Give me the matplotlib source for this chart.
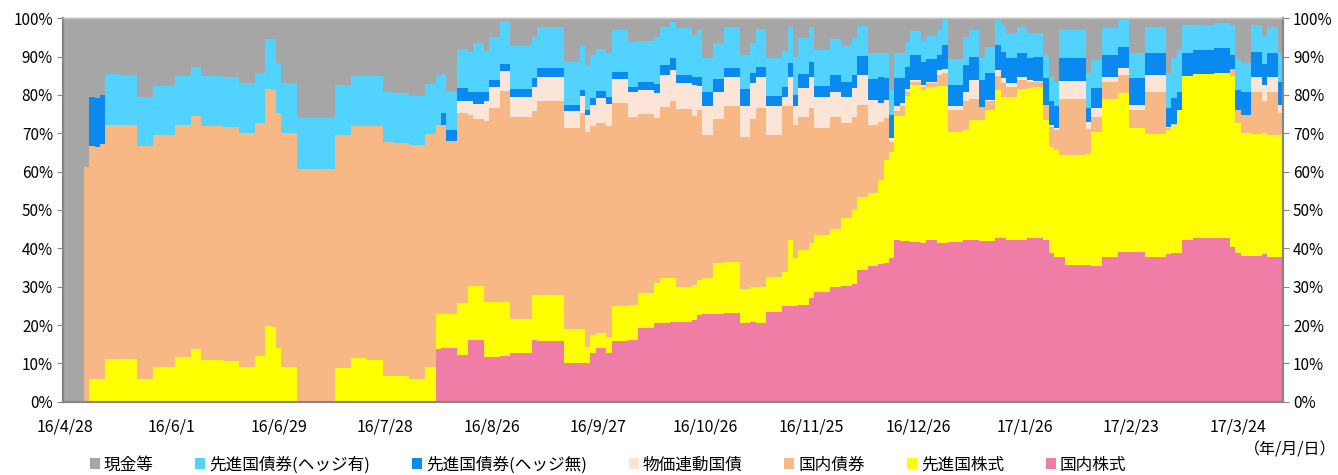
import numpy as np
import matplotlib
matplotlib.use('Agg')
import matplotlib.pyplot as plt
from matplotlib.patches import Patch

plt.rcParams['font.family'] = ['Noto Sans CJK JP', 'DejaVu Sans']

# ---- data (percent of portfolio; each entry holds for run_days business days) ----
tick_labels = ['16/4/28', '16/6/1', '16/6/29', '16/7/28', '16/8/26', '16/9/27',
               '16/10/26', '16/11/25', '16/12/26', '17/1/26', '17/2/23', '17/3/24']
tick_every = 20

run_days = [4, 1, 1, 1, 1, 3, 3, 3, 4, 3, 2, 4, 3, 3, 2, 1, 1, 1, 3, 7,
            3, 3, 3, 2, 3, 3, 2, 1, 1, 2, 2, 1, 2, 1, 2, 2, 4, 1, 5, 3,
            1, 1, 1, 2, 1, 3, 2, 3, 1, 2, 1, 3, 1, 1, 2, 2, 3, 2, 1, 2,
            3, 1, 1, 1, 2, 1, 3, 2, 2, 1, 2, 2, 1, 1, 1, 1, 1, 1, 2, 1,
            2, 1, 1, 3, 1, 2, 1, 2, 1, 1, 2, 2, 1, 2, 1, 1, 1, 1, 4, 1,
            2, 3, 2, 3, 4, 1, 1, 1, 2, 4, 3, 1, 1, 2, 2, 1, 2, 1]

dom_equity = [0, 0, 0, 0, 0, 0, 0, 0, 0, 0, 0, 0, 0, 0, 0, 0, 0, 0, 0, 0,
              0, 0, 0, 0, 0, 0, 0, 13.7, 13.9, 13.9, 12.2, 16.1, 16.1, 11.7, 11.7, 11.9, 12.6, 16.1, 15.8, 10.0,
              10.0, 10.2, 12.6, 13.9, 12.8, 15.8, 16.1, 19.1, 20.4, 20.6, 20.9, 20.9, 21.3, 22.6, 22.9, 23.0, 23.2, 20.4, 20.9, 20.4,
              23.5, 25.0, 25.0, 25.0, 25.2, 27.0, 28.7, 29.8, 30.2, 30.7, 34.3, 35.4, 35.9, 36.1, 37.4, 42.2, 42.0, 42.0, 41.7, 41.3,
              42.2, 41.3, 41.3, 41.7, 42.2, 42.2, 42.0, 42.0, 42.6, 42.6, 42.3, 42.2, 42.6, 42.8, 42.3, 38.7, 37.8, 37.7, 35.7, 35.7,
              35.4, 37.8, 39.1, 39.1, 37.8, 38.5, 38.7, 38.7, 42.2, 42.6, 42.6, 40.3, 38.7, 38.0, 38.0, 38.5, 37.8, 37.8]

dev_equity = [0, 0, 5.9, 5.8, 5.8, 11.1, 11.2, 5.9, 9.0, 11.7, 13.7, 11.0, 10.6, 9.0, 11.9, 19.7, 19.4, 13.9, 9.0, 0,
              8.9, 11.3, 10.9, 6.8, 6.8, 5.9, 9.0, 9.3, 9.0, 9.0, 13.5, 14.1, 14.1, 14.2, 14.2, 14.2, 9.1, 11.7, 12.0, 8.9,
              8.9, 4.0, 4.8, 3.9, 4.2, 9.2, 9.1, 9.2, 10.5, 11.7, 11.4, 9.1, 9.1, 9.1, 9.3, 13.1, 13.3, 8.9, 8.9, 9.6,
              9.1, 8.9, 17.2, 12.4, 14.4, 14.3, 14.8, 15.2, 17.6, 19.3, 19.0, 19.1, 21.9, 26.9, 27.8, 32.3, 32.5, 37.7, 40.9, 40.0,
              40.0, 41.0, 41.0, 28.7, 28.7, 31.3, 31.5, 34.1, 38.7, 36.8, 37.3, 39.3, 39.1, 39.4, 31.2, 27.8, 27.9, 26.6, 28.6, 28.9,
              35.0, 41.1, 41.3, 32.2, 32.0, 32.4, 33.5, 37.4, 42.8, 42.9, 43.2, 44.7, 33.9, 32.2, 31.8, 31.7, 31.8, 31.8]

dom_bond = [0, 61.3, 60.8, 60.7, 61.4, 61.2, 61.0, 60.8, 60.6, 60.6, 60.8, 61.0, 61.1, 61.0, 60.9, 61.9, 61.9, 61.3, 61.0, 60.8,
            60.7, 60.7, 61.0, 61.0, 60.6, 61.0, 60.7, 49.3, 49.4, 45.1, 49.5, 44.6, 43.5, 47.3, 50.8, 55.0, 52.6, 48.1, 50.7, 52.4,
            56.5, 56.2, 54.5, 55.0, 54.9, 52.8, 49.1, 46.7, 43.0, 44.5, 46.2, 46.3, 44.1, 44.4, 37.4, 37.6, 40.5, 39.8, 43.9, 46.5,
            37.0, 43.1, 34.9, 34.8, 34.6, 35.2, 27.8, 29.3, 24.8, 24.3, 24.1, 17.7, 15.2, 10.9, 2.6, 1.2, 2.5, 1.2, 0.9, 0.7,
            0.8, 2.9, 3.4, 5.7, 7.4, 5.4, 3.4, 2.2, 3.7, 3.8, 2.6, 2.4, 1.8, 1.3, 3.9, 5.2, 5.2, 14.6, 14.6, 6.4,
            3.9, 4.6, 4.8, 4.8, 11.1, 0.4, 0.2, 0, 0, 0, 0, 1.7, 3.5, 4.6, 11.1, 8.3, 11.3, 5.6]

linker = [0, 0, 0, 0, 0, 0, 0, 0, 0, 0, 0, 0, 0, 0, 0, 0, 0, 0, 0, 0,
          0, 0, 0, 0, 0, 0, 0, 0, 0, 0, 3.3, 3.5, 4.0, 5.1, 5.3, 5.2, 5.3, 6.1, 6.3, 4.4,
          4.3, 4.4, 5.5, 6.3, 5.8, 6.3, 6.6, 6.3, 6.7, 8.4, 8.0, 6.9, 8.1, 6.2, 7.4, 7.2, 7.8, 8.0, 9.3, 8.3,
          7.4, 2.6, 7.7, 4.8, 7.5, 8.3, 8.3, 6.6, 6.8, 7.6, 7.8, 6.5, 4.8, 4.8, 0.9, 1.3, 0.8, 0.6, 0.4, 0.6,
          0.5, 1.3, 1.0, 0.9, 2.6, 5.0, 0, 0.4, 1.5, 1.1, 1.0, 0.9, 0.4, 0.2, 0, 0.5, 0.4, 4.8, 4.8, 2.0,
          2.2, 1.3, 1.8, 1.3, 4.3, 0.4, 0, 0, 0, 0, 0, 0, 0, 0, 3.9, 4.1, 3.9, 2.2]

dev_bond_unhedged = [0, 0, 12.9, 12.8, 12.8, 0, 0, 0, 0, 0, 0, 0, 0, 0, 0, 0, 0, 0, 0, 0,
                     0, 0, 0, 0, 0, 0, 0, 0, 3.1, 2.9, 3.2, 2.6, 3.0, 2.6, 1.9, 1.8, 1.9, 2.3, 2.2, 1.7,
                     1.6, 1.3, 1.7, 1.9, 1.7, 1.8, 1.3, 2.2, 2.3, 2.5, 3.1, 2.0, 2.2, 2.5, 3.7, 3.2, 2.2, 4.4, 2.7, 2.4,
                     2.7, 2.4, 3.5, 3.0, 3.9, 3.9, 2.7, 4.3, 4.1, 3.3, 5.0, 5.5, 7.0, 5.6, 6.1, 7.3, 6.5, 5.8, 6.5, 6.0,
                     5.8, 3.9, 6.3, 5.6, 6.9, 6.1, 7.0, 7.0, 6.5, 7.0, 6.4, 6.2, 5.7, 6.3, 6.9, 6.1, 5.7, 5.9, 5.9, 3.5,
                     5.2, 5.6, 5.6, 6.9, 5.7, 4.8, 6.7, 4.8, 6.0, 6.2, 6.4, 3.7, 5.2, 6.1, 6.5, 5.4, 6.1, 6.1]

dev_bond_hedged = [0, 0, 0, 0, 0, 13.1, 13.0, 12.9, 12.8, 12.7, 12.9, 12.9, 12.9, 13.0, 12.9, 12.9, 13.2, 13.2, 13.0, 13.1,
                   13.0, 13.0, 13.0, 13.1, 13.0, 12.9, 13.2, 12.7, 10.1, 10.1, 10.2, 10.4, 12.8, 10.7, 11.1, 11.2, 11.4, 10.9, 10.8, 11.3,
                   11.5, 11.7, 11.3, 10.9, 11.5, 11.1, 11.7, 10.6, 12.3, 10.0, 9.5, 12.2, 10.9, 12.2, 8.9, 9.4, 10.8, 8.9, 7.8, 10.0,
                   9.9, 9.6, 9.4, 10.0, 9.2, 9.0, 9.4, 9.5, 9.3, 9.6, 7.8, 6.8, 6.2, 6.6, 6.5, 6.7, 6.6, 6.5, 6.4, 5.5,
                   6.1, 6.6, 6.6, 6.7, 7.4, 7.0, 5.7, 6.9, 6.6, 7.0, 6.5, 6.8, 6.5, 6.1, 6.1, 6.5, 6.5, 7.4, 7.4, 9.2,
                   7.4, 7.0, 7.1, 6.6, 6.9, 9.2, 10.5, 10.8, 7.3, 6.6, 6.5, 7.8, 7.8, 7.4, 7.0, 7.4, 6.9, 7.4]

cash = [100, 38.7, 20.4, 20.7, 20.0, 14.6, 14.8, 20.4, 17.6, 15.0, 12.6, 15.1, 15.4, 17.0, 14.3, 5.5, 5.5, 11.6, 17.0, 26.1,
        17.4, 15.0, 15.1, 19.1, 19.6, 20.2, 17.1, 15.0, 14.5, 19.0, 8.1, 8.7, 6.5, 8.4, 5.0, 0.7, 7.1, 4.8, 2.2, 11.3,
        7.2, 12.2, 9.6, 8.1, 9.1, 3.0, 6.1, 5.9, 4.8, 2.3, 0.9, 2.6, 4.3, 3.0, 10.4, 6.5, 2.2, 9.6, 6.5, 2.8,
        10.4, 8.4, 2.3, 10.0, 5.2, 2.3, 8.3, 5.3, 7.2, 5.2, 2.0, 9.0, 9.0, 9.1, 18.7, 9.0, 9.1, 6.2, 3.2, 5.9,
        4.6, 3.0, 0.4, 10.7, 4.8, 3.0, 10.4, 7.4, 0.4, 1.7, 3.9, 2.2, 3.9, 3.9, 9.6, 15.2, 16.5, 3.0, 3.0, 14.3,
        10.9, 2.6, 0.3, 9.1, 2.2, 14.3, 10.4, 8.3, 1.7, 1.7, 1.3, 1.8, 10.9, 11.7, 1.7, 4.6, 2.2, 9.1]

series = [
    (dom_equity, '国内株式', '#F07DA6'),
    (dev_equity, '先進国株式', '#FFFF00'),
    (dom_bond, '国内債券', '#F7B886'),
    (linker, '物価連動国債', '#FCE5D7'),
    (dev_bond_unhedged, '先進国債券(ヘッジ無)', '#0A8AF0'),
    (dev_bond_hedged, '先進国債券(ヘッジ有)', '#52D2FF'),
    (cash, '現金等', '#A6A6A6'),
]

W, H = 1338, 475
fig = plt.figure(figsize=(W / 100, H / 100), dpi=100)
ax = fig.add_axes([62.7 / W, 1 - 401.7 / H, (1283.3 - 62.7) / W, (401.7 - 18.3) / H])

n = int(np.sum(run_days))
x = np.arange(n + 1)
bottom = np.zeros(n)
for vals, label, color in series:
    daily = np.repeat(np.asarray(vals, dtype=float), run_days)
    top = bottom + daily
    ax.fill_between(x, np.append(bottom, bottom[-1]), np.append(top, top[-1]),
                    step='post', color=color, lw=0, antialiased=False)
    bottom = top

ax.set_xlim(0, n)
ax.set_ylim(0, 100)
ticks = np.arange(len(tick_labels)) * tick_every + 0.5
ax.set_xticks(ticks)
ax.set_xticklabels(tick_labels, fontsize=11.5)
ax.tick_params(axis='x', length=0, pad=12)

yt = np.arange(0, 101, 10)
ax.set_yticks(yt)
ax.set_yticklabels([f'{v}%' for v in yt], fontsize=11)
ax.tick_params(axis='y', length=4, color='#868686', pad=3)

ax2 = ax.twinx()
ax2.set_ylim(0, 100)
ax2.set_yticks(yt)
ax2.set_yticklabels([f'{v}%' for v in yt], fontsize=11)
ax2.tick_params(axis='y', length=4, color='#868686', pad=3)

for a in (ax, ax2):
    for s in ['left', 'right', 'bottom']:
        a.spines[s].set_color('#868686')
        a.spines[s].set_linewidth(1.5)
    a.spines['top'].set_color('#C0C0C0')
    a.spines['top'].set_linewidth(1)

fig.text(1336 / W, 1 - 450 / H, '（年/月/日）', ha='right', va='center', fontsize=11.5)

handles = [Patch(facecolor=c, edgecolor='none', label=l) for _, l, c in series[::-1]]
fig.legend(handles=handles, loc='center', bbox_to_anchor=(608 / W, 1 - 465 / H), ncol=7,
           frameon=False, fontsize=12, handlelength=0.6, handleheight=0.6,
           handletextpad=0.25, columnspacing=2.5, borderpad=0)

fig.savefig('out.png', dpi=100)
